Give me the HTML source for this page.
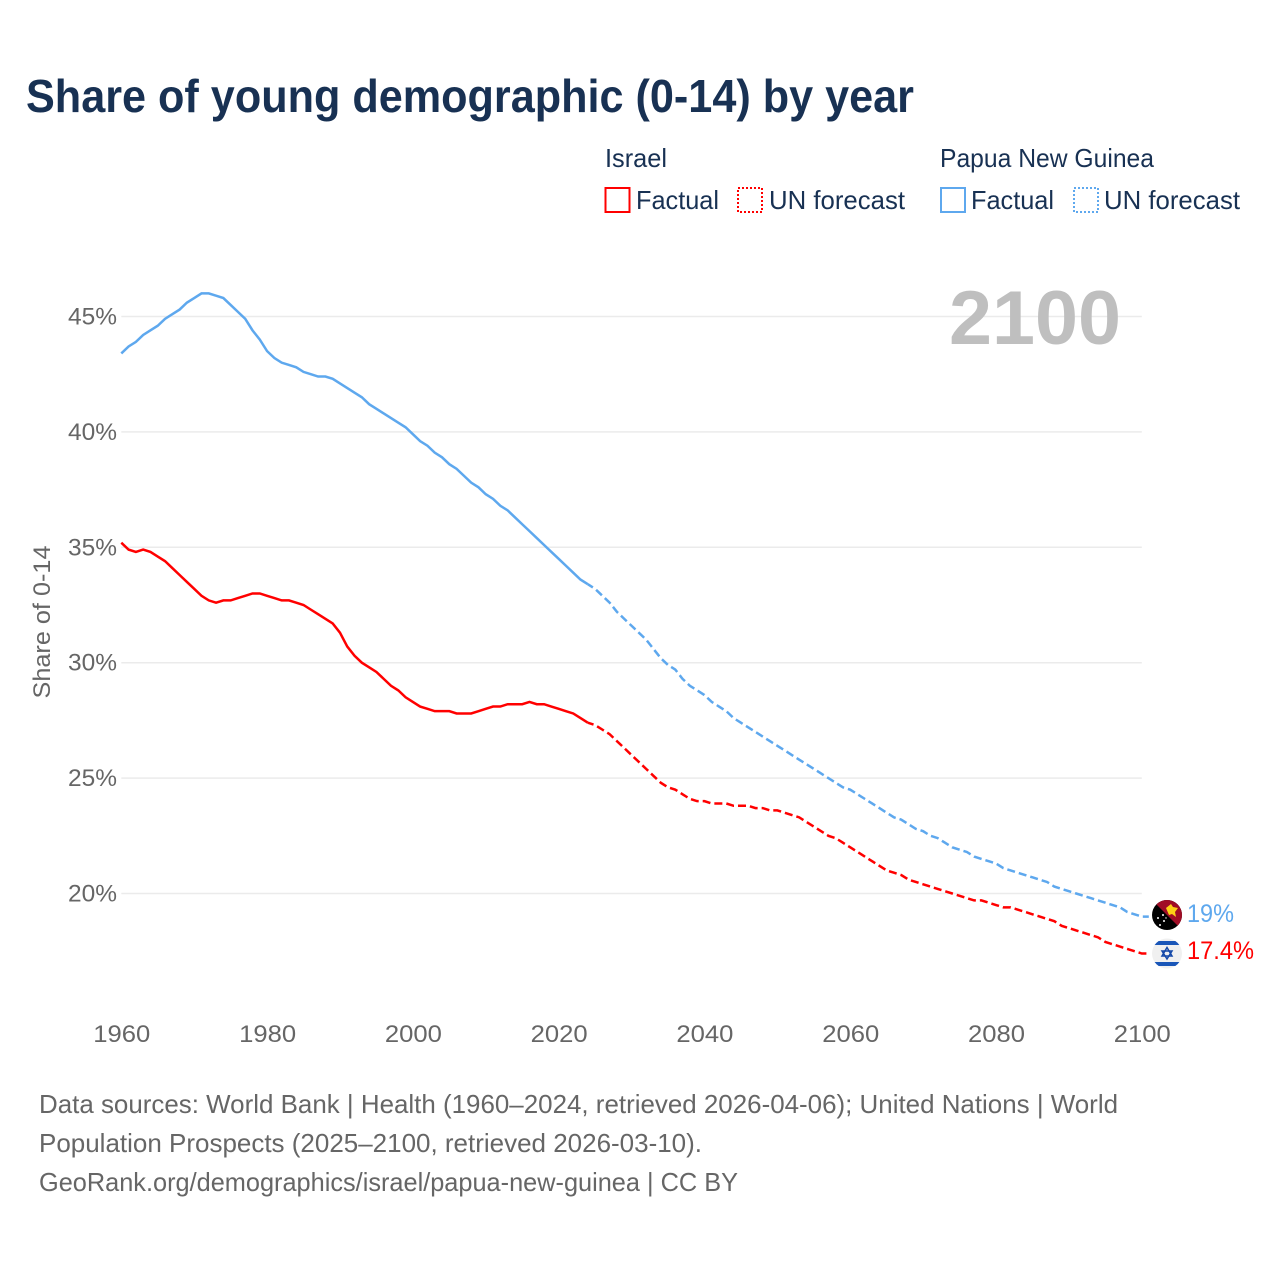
<!DOCTYPE html>
<html lang="en">
<head>
<meta charset="utf-8">
<title>Share of young demographic (0-14) by year</title>
<style>
  html, body { margin: 0; padding: 0; background: #fff; }
  svg { display: block; font-family: "Liberation Sans", sans-serif; }
</style>
</head>
<body>
<svg id="chart" width="1280" height="1280" viewBox="0 0 1280 1280" xmlns="http://www.w3.org/2000/svg">
  <rect width="1280" height="1280" fill="#fff"/>
  <text x="26" y="112" font-size="46" font-weight="700" fill="#183153" textLength="888" lengthAdjust="spacingAndGlyphs">Share of young demographic (0-14) by year</text>

  <g>
    <text x="605" y="167" font-size="26" fill="#183153" textLength="62" lengthAdjust="spacingAndGlyphs">Israel</text>
    <rect x="605.5" y="188" width="24" height="24" fill="none" stroke="#ff0000" stroke-width="2"/>
    <text x="636" y="209" font-size="26" fill="#183153" textLength="83" lengthAdjust="spacingAndGlyphs">Factual</text>
    <rect x="738" y="188" width="24" height="24" fill="none" stroke="#ff0000" stroke-width="2" stroke-dasharray="2 2"/>
    <text x="769" y="209" font-size="26" fill="#183153" textLength="136" lengthAdjust="spacingAndGlyphs">UN forecast</text>
    <text x="940" y="167" font-size="26" fill="#183153" textLength="214" lengthAdjust="spacingAndGlyphs">Papua New Guinea</text>
    <rect x="941" y="188" width="24" height="24" fill="none" stroke="#5ea8ee" stroke-width="2"/>
    <text x="971" y="209" font-size="26" fill="#183153" textLength="83" lengthAdjust="spacingAndGlyphs">Factual</text>
    <rect x="1074" y="188" width="24" height="24" fill="none" stroke="#5ea8ee" stroke-width="2" stroke-dasharray="2 2"/>
    <text x="1104" y="209" font-size="26" fill="#183153" textLength="136" lengthAdjust="spacingAndGlyphs">UN forecast</text>
  </g>

  <g id="grid"></g>
  <g id="y-ticks"></g>
  <g id="x-ticks"></g>

  <text x="1121" y="344" text-anchor="end" font-size="76" font-weight="700" fill="#bfbfbf" textLength="172" lengthAdjust="spacingAndGlyphs">2100</text>
  <text transform="translate(50 622) rotate(-90)" text-anchor="middle" font-size="24" fill="#666666" textLength="153" lengthAdjust="spacingAndGlyphs">Share of 0-14</text>

  <g id="series"></g>

  <defs>
    <clipPath id="png-clip"><circle cx="1167" cy="915" r="15"/></clipPath>
    <clipPath id="il-clip"><circle cx="1167" cy="953.5" r="15"/></clipPath>
  </defs>

  <g clip-path="url(#png-clip)">
    <rect x="1150" y="898" width="34" height="34" fill="#000"/>
    <polygon points="1152,900 1182,900 1182,930" fill="#a00d26"/>
    <polygon points="1166,908 1171,904 1173,907 1178,908 1175,912 1176,917 1172,914 1169,915" fill="#fcd116"/>
    <g fill="#fff">
      <circle cx="1158" cy="918" r="1"/><circle cx="1163" cy="915" r="1"/>
      <circle cx="1164" cy="921" r="1"/><circle cx="1160" cy="925" r="1"/>
      <circle cx="1166" cy="918" r="0.7"/>
    </g>
  </g>
  <g clip-path="url(#il-clip)">
    <rect x="1150" y="937" width="34" height="34" fill="#f0f0f0"/>
    <rect x="1150" y="941" width="34" height="4" fill="#1a56b8"/>
    <rect x="1150" y="962" width="34" height="4" fill="#1a56b8"/>
    <polygon points="1167,947.5 1172,956 1162,956" fill="none" stroke="#1448a8" stroke-width="1.5"/>
    <polygon points="1167,959 1172,951 1162,951" fill="none" stroke="#1448a8" stroke-width="1.5"/>
  </g>

  <text x="1187" y="922" font-size="25" fill="#5ea8ee" textLength="47" lengthAdjust="spacingAndGlyphs">19%</text>
  <text x="1187" y="959" font-size="25" fill="#ff0000" textLength="67" lengthAdjust="spacingAndGlyphs">17.4%</text>

  <g>
    <text x="39" y="1113" font-size="26" fill="#666666" textLength="1079" lengthAdjust="spacingAndGlyphs">Data sources: World Bank | Health (1960–2024, retrieved 2026-04-06); United Nations | World</text>
    <text x="39" y="1152" font-size="26" fill="#666666" textLength="663" lengthAdjust="spacingAndGlyphs">Population Prospects (2025–2100, retrieved 2026-03-10).</text>
    <text x="39" y="1191" font-size="26" fill="#666666" textLength="699" lengthAdjust="spacingAndGlyphs">GeoRank.org/demographics/israel/papua-new-guinea | CC BY</text>
  </g>
</svg>

<script>
const yTickValues = [45, 40, 35, 30, 25, 20];
const yTickLabels = ['45%', '40%', '35%', '30%', '25%', '20%'];
const xTickValues = [1960, 1980, 2000, 2020, 2040, 2060, 2080, 2100];
const xTickLabels = ['1960', '1980', '2000', '2020', '2040', '2060', '2080', '2100'];
const factualStartYear = 1960;
const forecastStartYear = 2024;

const israelFactual = [
  35.2, 34.9, 34.8, 34.9, 34.8, 34.6, 34.4, 34.1, 33.8, 33.5,
  33.2, 32.9, 32.7, 32.6, 32.7, 32.7, 32.8, 32.9, 33.0, 33.0,
  32.9, 32.8, 32.7, 32.7, 32.6, 32.5, 32.3, 32.1, 31.9, 31.7,
  31.3, 30.7, 30.3, 30.0, 29.8, 29.6, 29.3, 29.0, 28.8, 28.5,
  28.3, 28.1, 28.0, 27.9, 27.9, 27.9, 27.8, 27.8, 27.8, 27.9,
  28.0, 28.1, 28.1, 28.2, 28.2, 28.2, 28.3, 28.2, 28.2, 28.1,
  28.0, 27.9, 27.8, 27.6, 27.4
];
const israelForecast = [
  27.4, 27.3, 27.1, 26.9, 26.6, 26.3, 26.0, 25.7, 25.4, 25.1,
  24.8, 24.6, 24.5, 24.3, 24.1, 24.0, 24.0, 23.9, 23.9, 23.9,
  23.8, 23.8, 23.8, 23.7, 23.7, 23.6, 23.6, 23.5, 23.4, 23.3,
  23.1, 22.9, 22.7, 22.5, 22.4, 22.2, 22.0, 21.8, 21.6, 21.4,
  21.2, 21.0, 20.9, 20.8, 20.6, 20.5, 20.4, 20.3, 20.2, 20.1,
  20.0, 19.9, 19.8, 19.7, 19.7, 19.6, 19.5, 19.4, 19.4, 19.3,
  19.2, 19.1, 19.0, 18.9, 18.8, 18.6, 18.5, 18.4, 18.3, 18.2,
  18.1, 17.9, 17.8, 17.7, 17.6, 17.5, 17.4
];
const pngFactual = [
  43.4, 43.7, 43.9, 44.2, 44.4, 44.6, 44.9, 45.1, 45.3, 45.6,
  45.8, 46.0, 46.0, 45.9, 45.8, 45.5, 45.2, 44.9, 44.4, 44.0,
  43.5, 43.2, 43.0, 42.9, 42.8, 42.6, 42.5, 42.4, 42.4, 42.3,
  42.1, 41.9, 41.7, 41.5, 41.2, 41.0, 40.8, 40.6, 40.4, 40.2,
  39.9, 39.6, 39.4, 39.1, 38.9, 38.6, 38.4, 38.1, 37.8, 37.6,
  37.3, 37.1, 36.8, 36.6, 36.3, 36.0, 35.7, 35.4, 35.1, 34.8,
  34.5, 34.2, 33.9, 33.6, 33.4
];
const pngForecast = [
  33.4, 33.2, 32.9, 32.6, 32.2, 31.9, 31.6, 31.3, 31.0, 30.6,
  30.2, 29.9, 29.7, 29.3, 29.0, 28.8, 28.6, 28.3, 28.1, 27.9,
  27.6, 27.4, 27.2, 27.0, 26.8, 26.6, 26.4, 26.2, 26.0, 25.8,
  25.6, 25.4, 25.2, 25.0, 24.8, 24.6, 24.5, 24.3, 24.1, 23.9,
  23.7, 23.5, 23.3, 23.2, 23.0, 22.8, 22.7, 22.5, 22.4, 22.2,
  22.0, 21.9, 21.8, 21.6, 21.5, 21.4, 21.3, 21.1, 21.0, 20.9,
  20.8, 20.7, 20.6, 20.5, 20.3, 20.2, 20.1, 20.0, 19.9, 19.8,
  19.7, 19.6, 19.5, 19.4, 19.2, 19.1, 19.0
];

const SVG_NS = 'http://www.w3.org/2000/svg';
const xScale = function (year) { return 121.3 + (year - 1960) * (1141.8 - 121.3) / 140; };
const yScale = function (pct) { return 893.5 - (pct - 20) * (893.5 - 316.5) / 25; };

const grid = document.getElementById('grid');
const yTicks = document.getElementById('y-ticks');
const xTicks = document.getElementById('x-ticks');
const series = document.getElementById('series');

yTickValues.forEach(function (value, i) {
  const line = document.createElementNS(SVG_NS, 'line');
  
  
  line.setAttribute('x1', xScale(1960));
  line.setAttribute('x2', xScale(2100));
  line.setAttribute('y1', yScale(value));
  line.setAttribute('y2', yScale(value));
  line.setAttribute('stroke', '#ebebeb');
  line.setAttribute('stroke-width', '1.5');
  grid.appendChild(line);

  const label = document.createElementNS(SVG_NS, 'text');
  
  
  label.setAttribute('x', 117);
  label.setAttribute('y', yScale(value) + 8);
  label.setAttribute('text-anchor', 'end');
  label.setAttribute('font-size', '24');
  label.setAttribute('fill', '#666666');
  label.setAttribute('textLength', '49');
  label.setAttribute('lengthAdjust', 'spacingAndGlyphs');
  label.textContent = yTickLabels[i];
  yTicks.appendChild(label);
});

xTickValues.forEach(function (value, i) {
  const label = document.createElementNS(SVG_NS, 'text');
  
  
  label.setAttribute('x', xScale(value) + 0.5);
  label.setAttribute('y', 1042);
  label.setAttribute('text-anchor', 'middle');
  label.setAttribute('font-size', '24');
  label.setAttribute('fill', '#666666');
  label.setAttribute('textLength', '57');
  label.setAttribute('lengthAdjust', 'spacingAndGlyphs');
  label.textContent = xTickLabels[i];
  xTicks.appendChild(label);
});

function linePath(values, startYear, leader) {
  let d = values.map(function (v, i) {
    return (i ? 'L' : 'M') + xScale(startYear + i).toFixed(2) + ' ' + yScale(v).toFixed(2);
  }).join(' ');
  if (leader) {
    d += ' L' + (xScale(startYear + values.length - 1) + 7).toFixed(2) + ' ' + yScale(values[values.length - 1]).toFixed(2);
  }
  return d;
}

function addPng() {
  const solid = document.createElementNS(SVG_NS, 'path');
  
  
  solid.setAttribute('d', linePath(pngFactual, factualStartYear, false));
  solid.setAttribute('fill', 'none');
  solid.setAttribute('stroke', '#5ea8ee');
  solid.setAttribute('stroke-width', '2.5');
  series.appendChild(solid);

  const dashed = document.createElementNS(SVG_NS, 'path');
  
  
  dashed.setAttribute('d', linePath(pngForecast, forecastStartYear, true));
  dashed.setAttribute('fill', 'none');
  dashed.setAttribute('stroke', '#5ea8ee');
  dashed.setAttribute('stroke-width', '2.5');
  dashed.setAttribute('stroke-dasharray', '8 4');
  dashed.setAttribute('stroke-dashoffset', '2');
  series.appendChild(dashed);
}

function addIsrael() {
  const solid = document.createElementNS(SVG_NS, 'path');
  
  
  solid.setAttribute('d', linePath(israelFactual, factualStartYear, false));
  solid.setAttribute('fill', 'none');
  solid.setAttribute('stroke', '#ff0000');
  solid.setAttribute('stroke-width', '2.5');
  series.appendChild(solid);

  const dashed = document.createElementNS(SVG_NS, 'path');
  
  
  dashed.setAttribute('d', linePath(israelForecast, forecastStartYear, true));
  dashed.setAttribute('fill', 'none');
  dashed.setAttribute('stroke', '#ff0000');
  dashed.setAttribute('stroke-width', '2.5');
  dashed.setAttribute('stroke-dasharray', '8 4');
  dashed.setAttribute('stroke-dashoffset', '2');
  series.appendChild(dashed);
}

addPng();
addIsrael();
</script>
</body>
</html>
